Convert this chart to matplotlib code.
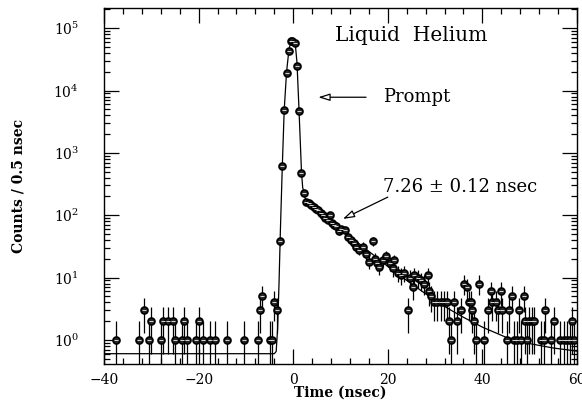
import numpy as np
import matplotlib
matplotlib.use('Agg')
import matplotlib.pyplot as plt
from matplotlib.ticker import LogLocator, FixedLocator, NullFormatter

plt.rcParams['font.family'] = ['DejaVu Serif', 'DejaVu Sans']
plt.rcParams['mathtext.fontset'] = 'dejavuserif'

bg_t = [-37.5, -32.5, -31.5, -30.5, -30.0, -28.0, -27.5, -26.5, -25.5, -25.0,
        -23.5, -23.0, -22.5, -20.5, -20.0, -19.0, -17.5, -16.5, -14.0, -10.5,
        -7.5, -7.0, -6.5, -5.0, -4.5, -4.0, -3.5]
bg_n = [1, 1, 3, 1, 2, 1, 2, 2, 2, 1,
        1, 2, 1, 1, 2, 1, 1, 1, 1, 1,
        1, 3, 5, 1, 1, 4, 3]

peak_t = [-2.8, -2.3, -1.85, -1.35, -0.9, -0.4, -0.15, 0.3, 0.8, 1.25, 1.75, 2.3]
peak_n = [38, 620, 4900, 19000, 43000, 62000, 63000, 57000, 25000, 4700, 470, 230]

tail_t = [2.8, 3.3, 3.8, 4.3, 4.8, 5.3, 5.8, 6.3, 6.8, 7.3, 7.7, 8.1, 8.6, 9.1,
          9.6, 10.1, 10.9, 11.6, 12.3, 12.8, 13.3, 14.0, 14.7, 15.4, 16.1, 16.8,
          17.2, 17.7, 18.2, 18.9, 19.6, 20.4, 21.1, 21.4, 22.1, 22.8, 23.5, 24.2,
          24.6, 25.3, 25.6, 26.3, 27.0, 27.7, 28.4, 28.8, 29.1, 29.8, 30.5, 31.2,
          31.9, 32.6, 33.0, 33.3, 34.0, 34.7, 35.4, 36.1, 36.8, 37.2, 37.5, 37.9,
          38.2, 38.7, 39.3, 40.4, 41.1, 41.8, 42.1, 42.8, 43.2, 43.9, 44.2, 45.3,
          45.6, 46.3, 46.7, 47.4, 47.7, 48.1, 48.8, 49.1, 49.5, 49.8, 50.5, 50.9,
          52.3, 53.0, 53.3, 54.4, 55.1, 56.5, 57.2, 57.9, 58.6, 58.9, 59.3]
tail_n = [165, 155, 145, 135, 125, 120, 108, 100, 90, 85, 100, 74, 70, 66,
          55, 60, 58, 45, 40, 36, 31, 28, 31, 24, 18, 38,
          20, 17, 15, 19, 22, 17, 14, 19, 12, 11, 12, 3,
          10, 7, 11, 10, 9, 8, 11, 6, 5, 4, 4, 4,
          4, 4, 2, 1, 4, 2, 3, 8, 7, 4, 4, 3,
          2, 1, 8, 1, 3, 6, 4, 4, 3, 6, 3, 1,
          3, 5, 1, 1, 3, 1, 5, 2, 1, 2, 2, 2,
          1, 1, 3, 1, 2, 1, 1, 1, 1, 2, 1]

# fitted curve
fit_t = [-40, -4.0, -3.6, -3.3, -3.0, -2.7, -2.3, -1.9, -1.4, -0.9, -0.4, 0.0,
         0.4, 0.8, 1.2, 1.5, 1.75, 2.0, 2.5, 3, 4, 6, 8, 10, 12, 15, 18, 21,
         24, 27, 30, 33, 36, 40, 45, 50, 55, 60]
fit_n = [0.6, 0.6, 0.65, 1.5, 8, 60, 620, 4900, 20000, 45000, 65000, 68000,
         60000, 28000, 5500, 1500, 500, 280, 190, 160, 135, 105, 80, 61, 46, 30, 20, 13,
         9, 6.2, 4.3, 3.1, 2.3, 1.6, 1.1, 0.87, 0.74, 0.66]

xtick_vals = [-40, -20, 0, 20, 40, 60]
xtick_labels = ['\u221240', '\u221220', '0', '20', '40', '60']

t = np.array(bg_t + peak_t + tail_t)
n = np.array(bg_n + peak_n + tail_n, dtype=float)
err = np.sqrt(n)
lo = np.clip(n - err, 1e-3, None)
yerr = [n - lo, err]

fig = plt.figure(figsize=(5.82, 4.04), dpi=100)
ax = fig.add_axes([0.1787, 0.099, 0.8127, 0.881])

ax.plot(fit_t, fit_n, color='black', lw=0.9, zorder=2)
ax.errorbar(t, n, yerr=yerr, fmt='none', ecolor='black', elinewidth=0.9, capsize=0, zorder=3)
ax.plot(t, n, 'o', ms=5.0, mfc='0.15', mec='black', mew=1.2, zorder=4)
ax.plot(t, n, '_', ms=3.2, mew=0.7, color='0.85', zorder=5)

ax.set_yscale('log')
ax.set_xlim(-40, 60)
ax.set_ylim(0.41, 2.1e5)

ax.set_xticks(xtick_vals)
ax.set_xticklabels(xtick_labels)
ax.xaxis.set_minor_locator(FixedLocator(np.arange(-40, 61, 4)))
ax.yaxis.set_major_locator(LogLocator(base=10, numticks=10))
ax.yaxis.set_minor_locator(LogLocator(base=10, subs=np.arange(2, 10), numticks=20))
ax.yaxis.set_minor_formatter(NullFormatter())

ax.tick_params(which='both', direction='in', top=True, right=True, width=0.9)
ax.tick_params(which='major', length=11)
ax.tick_params(which='minor', length=4)
ax.tick_params(axis='x', which='major', pad=6.5, labelsize=10)
ax.tick_params(axis='y', which='major', pad=18, labelsize=10)
for s in ax.spines.values():
    s.set_linewidth(1.0)

ax.set_xlabel('Time (nsec)', fontsize=10, fontweight='bold')
ax.xaxis.set_label_coords(0.5, -0.062)
ax.xaxis.label.set_va('top')
ax.set_ylabel('Counts / 0.5 nsec', fontsize=10, fontweight='bold')
ax.yaxis.set_label_coords(-0.167, 0.5)

ax.text(0.488, 0.924, 'Liquid  Helium', transform=ax.transAxes, fontsize=14.5,
        ha='left', va='center')

ax.annotate('', xy=(5.3, 7800), xytext=(15.4, 7800),
            arrowprops=dict(arrowstyle='-|>,head_length=0.7,head_width=0.22',
                            fc='white', ec='black', lw=0.9, shrinkA=0, shrinkB=0))
ax.text(18.9, 7800, 'Prompt', fontsize=13, ha='left', va='center')

ax.annotate('', xy=(10.5, 87), xytext=(20.0, 195),
            arrowprops=dict(arrowstyle='-|>,head_length=0.7,head_width=0.22',
                            fc='white', ec='black', lw=0.9, shrinkA=0, shrinkB=0))
ax.text(18.9, 284, '7.26 \u00b1 0.12 nsec', fontsize=13, ha='left', va='center')

fig.savefig('out.png', dpi=100)
